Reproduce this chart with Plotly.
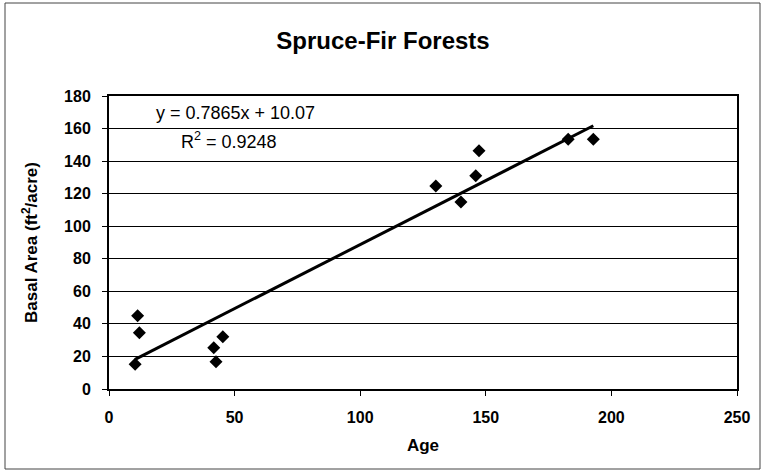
import plotly.graph_objects as go

# Data
age = [11.4, 12.1, 10.4, 41.7, 42.6, 45.3, 130.1, 140.1, 146.0, 147.3, 182.8, 192.8]
basal_area = [45.0, 34.6, 15.2, 25.4, 16.8, 32.1, 124.7, 114.9, 131.0, 146.4, 153.4, 153.4]
slope = 0.7865
intercept = 10.07
r_squared = 0.9248
x_ticks = [0, 50, 100, 150, 200, 250]
y_ticks = [0, 20, 40, 60, 80, 100, 120, 140, 160, 180]

trend_x = [min(age), max(age)]
trend_y = [slope * v + intercept for v in trend_x]

FONT = "Liberation Sans, Arial, sans-serif"

fig = go.Figure()
fig.add_trace(go.Scatter(x=trend_x, y=trend_y, mode="lines",
                         line=dict(color="black", width=3), hoverinfo="skip"))
fig.add_trace(go.Scatter(x=age, y=basal_area, mode="markers",
                         marker=dict(symbol="diamond", size=10, color="black")))

fig.update_layout(
    width=766, height=475,
    margin=dict(l=109, r=29, t=96, b=86, autoexpand=False),
    paper_bgcolor="white", plot_bgcolor="white",
    showlegend=False,
    font=dict(family=FONT, color="black"),
    title=dict(text="<b>Spruce-Fir Forests</b>", x=383 / 766, xref="container", xanchor="center",
               y=(475 - 41) / 475, yref="container", yanchor="middle",
               font=dict(size=24, family=FONT, color="black")),
)

fig.update_xaxes(
    range=[0, 250], tickvals=x_ticks, ticktext=[str(v) for v in x_ticks],
    showgrid=False, zeroline=False, automargin=False,
    showline=True, linecolor="black", linewidth=2, mirror=True,
    ticks="outside", ticklen=5, tickcolor="black", tickwidth=1,
    tickfont=dict(size=16, family=FONT, weight="bold"),
    ticklabelstandoff=8,
    title=dict(text="<b>Age</b>", font=dict(size=17, family=FONT), standoff=14),
)
fig.update_yaxes(
    range=[0, 180], tickvals=y_ticks, ticktext=[str(v) for v in y_ticks],
    showgrid=True, gridcolor="black", gridwidth=1, zeroline=False, automargin=False,
    showline=True, linecolor="black", linewidth=2, mirror=True,
    ticks="outside", ticklen=5, tickcolor="black", tickwidth=1,
    tickfont=dict(size=16, family=FONT, weight="bold"),
    ticklabelstandoff=8,
    title=dict(text="<b>Basal Area (ft<sup>2</sup>/acre)</b>", font=dict(size=17, family=FONT), standoff=22),
)

fig.add_annotation(x=18.0, y=169.5, xref="x", yref="y", xanchor="left", yanchor="middle",
                   text=f"y = {slope}x + {intercept}", showarrow=False,
                   font=dict(size=18, family=FONT, color="black"))
fig.add_annotation(x=28.0, y=152.5, xref="x", yref="y", xanchor="left", yanchor="middle",
                   text=f"R<sup>2</sup> = {r_squared}", showarrow=False,
                   font=dict(size=18, family=FONT, color="black"))

# outer chart border
fig.add_shape(type="rect", xref="paper", yref="paper",
              x0=(5 - 109) / 628, x1=(760 - 109) / 628,
              y0=(389 - 469) / 293, y1=(389 - 3) / 293,
              line=dict(color="#444444", width=1), fillcolor="rgba(0,0,0,0)", layer="below")

fig.write_html("out.html", config={"displayModeBar": False},
               post_script="document.body.style.margin='0';")
